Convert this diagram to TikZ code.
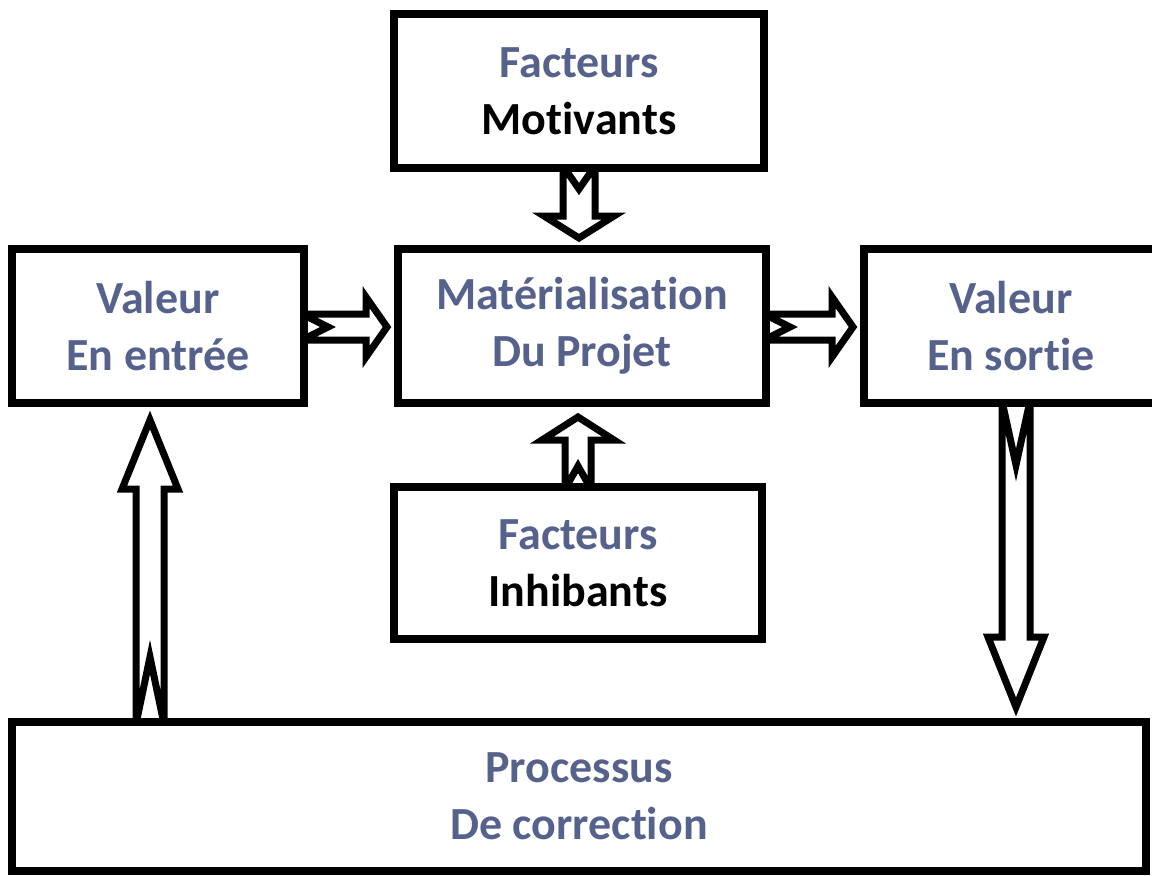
\documentclass[tikz,border=0pt]{standalone}
\usepackage{fontspec}
\setmainfont{Carlito}[Ligatures={NoCommon,NoContextual}]
\usetikzlibrary{calc}
\pgfdeclarelayer{bg}
\pgfsetlayers{bg,main}
\definecolor{slate}{RGB}{86,98,140}
\tikzset{
  box/.style={draw=black, line width=8pt, fill=white, inner sep=0pt, align=center,
    text=slate, font=\bfseries\fontsize{46}{57}\selectfont},
  barrow/.style={draw=black, line width=7pt, fill=white, line join=miter}
}
% #1 tail, #2 tip, #3 shaft half width, #4 head half width, #5 head length, #6 notch depth
\newcommand\blockarrow[6]{%
  \draw[barrow] ($(#1)!#3!90:(#2)$)
    -- ($(#2)!#5!(#1)!#3!-90:(#1)$)
    -- ($(#2)!#5!(#1)!#4!-90:(#1)$)
    -- (#2)
    -- ($(#2)!#5!(#1)!#4!90:(#1)$)
    -- ($(#2)!#5!(#1)!#3!90:(#1)$)
    -- ($(#1)!#3!-90:(#2)$)
    -- ($(#1)!#6!(#2)$)
    -- cycle;}
\begin{document}
\begin{tikzpicture}[x=1pt,y=-1pt]
\useasboundingbox (0,0) rectangle (1152,876);

\node[box, minimum width=370pt, minimum height=154pt] (mot) at (579,91)
  {Facteurs\\\textcolor{black}{Motivants}};
\node[box, minimum width=292pt, minimum height=154pt] (ent) at (158,326)
  {Valeur\\En entrée};
\node[box, minimum width=368pt, minimum height=154pt] (mat) at (582,326)
  {Matérialisation\\Du Projet};
\node[box, minimum width=294pt, minimum height=154pt] (sor) at (1011,326)
  {Valeur\\En sortie};
\node[box, minimum width=368pt, minimum height=152pt] (inh) at (578,563)
  {Facteurs\\\textcolor{black}{Inhibants}};
\node[box, minimum width=1134pt, minimum height=149pt] (pro) at (579,796.5)
  {Processus\\De correction};

% connector end points
\coordinate (a1t) at ($(mot.south)+(0,-6)$);
\coordinate (a1h) at ($(mot.south |- mat.north)+(0,-7)$);
\coordinate (a2t) at ($(ent.east)+(-6,1)$);
\coordinate (a2h) at ($(ent.east -| mat.west)+(-7,1)$);
\coordinate (a3t) at ($(mat.east)+(-6,1)$);
\coordinate (a3h) at ($(mat.east -| sor.west)+(-7,1)$);
\coordinate (a4t) at ($(sor.south)+(5,-6)$);
\coordinate (a4h) at ($(a4t |- pro.north)+(0,-11)$);
\coordinate (a5t) at ($(ent.south |- pro.north)+(-8,6)$);
\coordinate (a5h) at ($(ent.south)+(-8,13)$);
\coordinate (a6t) at ($(inh.north)+(0,6)$);
\coordinate (a6h) at ($(inh.north |- mat.south)+(0,10)$);

\begin{pgfonlayer}{bg}
\blockarrow{a1t}{a1h}{16pt}{35pt}{22pt}{23pt}
\blockarrow{a2t}{a2h}{13pt}{30pt}{21pt}{26pt}
\blockarrow{a3t}{a3h}{13pt}{30pt}{21pt}{26pt}
\blockarrow{a4t}{a4h}{14pt}{28pt}{70pt}{64pt}
\blockarrow{a5t}{a5h}{14pt}{28pt}{69pt}{67pt}
\blockarrow{a6t}{a6h}{13pt}{36pt}{23pt}{23pt}
\end{pgfonlayer}
\end{tikzpicture}
\end{document}
